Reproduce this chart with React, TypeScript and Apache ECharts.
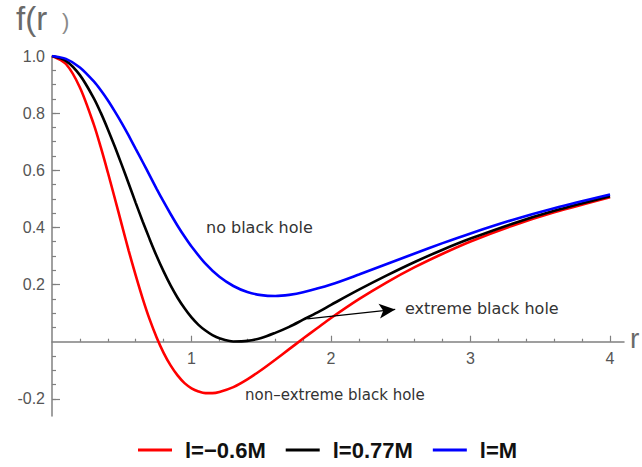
import React, { useEffect, useRef } from "react";
import * as echarts from "echarts";

// r values and f(r) values
const xRed = [0, 0.1, 0.2, 0.3, 0.35, 0.4, 0.45, 0.5, 0.55, 0.6, 0.65, 0.7, 0.75, 0.8, 0.85, 0.9, 0.95, 1.0, 1.05, 1.1, 1.15, 1.2, 1.3, 1.4, 1.5, 1.6, 1.7, 1.8, 1.9, 2.0, 2.2, 2.4, 2.6, 2.8, 3.0, 3.3, 3.6, 4.0];
const yRed = [1.0, 0.972, 0.89, 0.76, 0.68, 0.593, 0.502, 0.41, 0.318, 0.232, 0.151, 0.078, 0.015, -0.039, -0.083, -0.118, -0.145, -0.163, -0.174, -0.18, -0.18, -0.176, -0.159, -0.132, -0.099, -0.063, -0.026, 0.011, 0.047, 0.083, 0.149, 0.208, 0.261, 0.308, 0.351, 0.406, 0.453, 0.506];

const xBlack = [0, 0.1, 0.2, 0.3, 0.35, 0.4, 0.45, 0.5, 0.55, 0.6, 0.65, 0.7, 0.75, 0.8, 0.85, 0.9, 0.95, 1.0, 1.05, 1.1, 1.15, 1.2, 1.3, 1.4, 1.5, 1.6, 1.7, 1.8, 1.9, 2.0, 2.2, 2.4, 2.6, 2.8, 3.0, 3.3, 3.6, 4.0];
const yBlack = [1.0, 0.983, 0.933, 0.852, 0.801, 0.744, 0.683, 0.619, 0.553, 0.486, 0.421, 0.359, 0.3, 0.246, 0.197, 0.154, 0.117, 0.085, 0.059, 0.039, 0.023, 0.012, 0.001, 0.003, 0.013, 0.031, 0.052, 0.077, 0.102, 0.129, 0.182, 0.232, 0.279, 0.322, 0.361, 0.413, 0.458, 0.509];

const xBlue = [0, 0.1, 0.2, 0.3, 0.35, 0.4, 0.45, 0.5, 0.55, 0.6, 0.65, 0.7, 0.75, 0.8, 0.85, 0.9, 0.95, 1.0, 1.1, 1.2, 1.3, 1.4, 1.5, 1.6, 1.7, 1.8, 2.0, 2.2, 2.4, 2.6, 2.8, 3.0, 3.3, 3.6, 4.0];
const yBlue = [1.0, 0.99, 0.96, 0.911, 0.88, 0.845, 0.806, 0.765, 0.721, 0.675, 0.629, 0.582, 0.535, 0.49, 0.447, 0.406, 0.368, 0.333, 0.273, 0.227, 0.195, 0.174, 0.163, 0.16, 0.164, 0.173, 0.2, 0.235, 0.272, 0.309, 0.345, 0.379, 0.426, 0.467, 0.515];

const seriesNames = ["l=−0.6M", "l=0.77M", "l=M"];

// tick positions / labels
const xMajorTicks = [1, 2, 3, 4];
const xMinorTicks = [0.2, 0.4, 0.6, 0.8, 1.2, 1.4, 1.6, 1.8, 2.2, 2.4, 2.6, 2.8, 3.2, 3.4, 3.6, 3.8];
const yMajorTicks = [-0.2, 0.2, 0.4, 0.6, 0.8, 1.0];
const yMinorTicks = [-0.2, -0.15, -0.1, -0.05, 0.05, 0.1, 0.15, 0.2, 0.25, 0.3, 0.35, 0.4, 0.45, 0.5, 0.55, 0.6, 0.65, 0.7, 0.75, 0.8, 0.85, 0.9, 0.95, 1.0];

// arrow from the black curve to the label
const arrowFrom = [1.83, 0.08];
const arrowTo = [2.46, 0.113];

const AXIS_GRAY = "#808080";
const LABEL_GRAY = "#555555";

export default function App() {
  const ref = useRef<HTMLDivElement>(null);
  useEffect(() => {
    if (!ref.current) return;
    const chart = echarts.init(ref.current, null, { renderer: "svg" });
    const X_MIN = 0, X_MAX = 4.1, Y_MIN = -0.26, Y_MAX = 1.0;
    const GRID_TOP = 56, GRID_BOTTOM = 51, H = 467;
    const plotH = H - GRID_TOP - GRID_BOTTOM;
    // distance from the bottom edge of the grid up to y = 0
    const zeroOffset = -plotH * (0 - Y_MIN) / (Y_MAX - Y_MIN);
    const common = { min: X_MIN, max: X_MAX, splitLine: { show: false } };
    const commonY = { min: Y_MIN, max: Y_MAX, splitLine: { show: false } };
    const labelFont = "Liberation Sans, Arial, sans-serif";
    chart.setOption({
      animation: false,
      backgroundColor: "#ffffff",
      grid: { left: 52, right: 18, top: GRID_TOP, bottom: GRID_BOTTOM, containLabel: false, outerBoundsMode: "none" },
      xAxis: [
        {
          type: "value",
          ...common,
          position: "bottom",
          axisLine: { show: true, onZero: true, lineStyle: { color: AXIS_GRAY, width: 1.5 } },
          axisTick: { show: true, inside: true, length: 3, customValues: xMinorTicks, lineStyle: { color: AXIS_GRAY, width: 1.2 } },
          axisLabel: { show: false },
        },
        {
          type: "value",
          ...common,
          position: "bottom",
          offset: zeroOffset,
          axisLine: { show: false, onZero: false },
          axisTick: { show: true, inside: true, length: 6, customValues: xMajorTicks, lineStyle: { color: AXIS_GRAY, width: 1.2 } },
          axisLabel: {
            show: true,
            customValues: xMajorTicks,
            margin: 9,
            color: LABEL_GRAY,
            fontSize: 16,
            fontFamily: labelFont,
            formatter: (v: number) => String(Math.round(v)),
          },
        },
      ],
      yAxis: [
        {
          type: "value",
          ...commonY,
          axisLine: { show: true, onZero: true, lineStyle: { color: AXIS_GRAY, width: 1.5 } },
          axisTick: { show: true, inside: true, length: 4, customValues: yMinorTicks, lineStyle: { color: AXIS_GRAY, width: 1.2 } },
          axisLabel: { show: false },
        },
        {
          type: "value",
          ...commonY,
          position: "left",
          axisLine: { show: true, onZero: false, lineStyle: { color: "rgba(0,0,0,0)", width: 1 } },
          axisTick: { show: true, inside: true, length: 8, customValues: yMajorTicks, lineStyle: { color: AXIS_GRAY, width: 1.2 } },
          axisLabel: {
            show: true,
            customValues: yMajorTicks,
            margin: 7,
            color: LABEL_GRAY,
            fontSize: 16,
            fontFamily: labelFont,
            formatter: (v: number) => v.toFixed(1),
          },
        },
      ],
      legend: {
        left: 133,
        top: 434,
        itemWidth: 34,
        itemHeight: 3,
        itemGap: 20,
        icon: "rect",
        data: seriesNames,
        textStyle: {
          fontSize: 22,
          fontWeight: "bold",
          color: "#111111",
          fontFamily: labelFont,
          padding: [0, 0, 0, 8],
        },
      },
      series: [
        {
          name: seriesNames[0],
          type: "line",
          smooth: 0.3,
          showSymbol: false,
          color: "#ff0000",
          lineStyle: { width: 2.6, color: "#ff0000" },
          data: xRed.map((x, i) => [x, yRed[i]]),
          z: 3,
        },
        {
          name: seriesNames[1],
          type: "line",
          smooth: 0.3,
          showSymbol: false,
          color: "#000000",
          lineStyle: { width: 2.6, color: "#000000" },
          data: xBlack.map((x, i) => [x, yBlack[i]]),
          z: 4,
          markLine: {
            silent: true,
            symbol: ["none", "arrow"],
            symbolSize: [11, 16],
            label: { show: false },
            lineStyle: { color: "#000000", width: 1.2, type: "solid" },
            data: [[{ coord: arrowFrom }, { coord: arrowTo }]],
          },
        },
        {
          name: seriesNames[2],
          type: "line",
          smooth: 0.3,
          showSymbol: false,
          color: "#0000ff",
          lineStyle: { width: 2.6, color: "#0000ff" },
          data: xBlue.map((x, i) => [x, yBlue[i]]),
          z: 5,
        },
      ],
      graphic: [
        {
          type: "text",
          x: 16,
          y: 18,
          style: { text: "f(r", fill: "#6a6a6a", fontSize: 33, fontFamily: labelFont, textVerticalAlign: "middle" },
        },
        {
          type: "text",
          x: 62,
          y: 21,
          style: { text: ")", fill: "#8a8a8a", fontSize: 22, fontFamily: labelFont, textVerticalAlign: "middle" },
        },
        {
          type: "text",
          x: 630,
          y: 338,
          style: { text: "r", fill: "#6a6a6a", fontSize: 28, fontFamily: labelFont, textVerticalAlign: "middle" },
        },
        {
          type: "text",
          x: 206,
          y: 227,
          style: { text: "no black hole", fill: "#333333", fontSize: 16, fontFamily: "DejaVu Sans, sans-serif", textVerticalAlign: "middle" },
        },
        {
          type: "text",
          x: 405,
          y: 308,
          style: { text: "extreme black hole", fill: "#333333", fontSize: 16, fontFamily: "DejaVu Sans, sans-serif", textVerticalAlign: "middle" },
        },
        {
          type: "text",
          x: 245,
          y: 395,
          style: { text: "non–extreme black hole", fill: "#333333", fontSize: 15, fontFamily: "DejaVu Sans, sans-serif", textVerticalAlign: "middle" },
        },
      ],
    });
    return () => chart.dispose();
  }, []);
  return (
    <div style={{ position: "fixed", left: 0, top: 0, width: 642, height: 467, background: "#fff" }}>
      <div ref={ref} style={{ width: 642, height: 467 }} />
    </div>
  );
}
